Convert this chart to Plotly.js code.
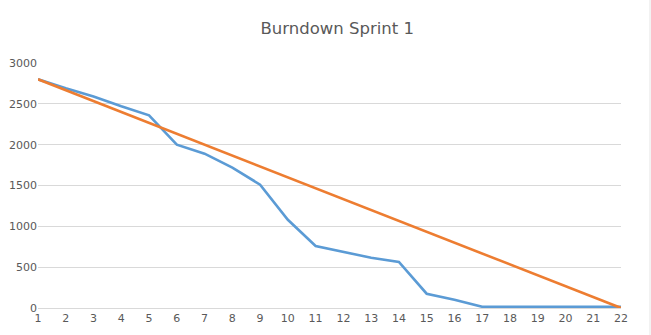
<!DOCTYPE html>
<html>
<head>
<meta charset="utf-8">
<script src="https://cdn.plot.ly/plotly-3.0.1.min.js"></script>
<style>html,body{margin:0;padding:0;background:#fff;}#chart{width:651px;height:335px;}</style>
</head>
<body>
<div id="chart"></div>
<script>
var days = [1,2,3,4,5,6,7,8,9,10,11,12,13,14,15,16,17,18,19,20,21,22];
var actual = [2800,2690,2590,2470,2360,2000,1890,1720,1510,1080,760,690,615,565,175,100,15,15,15,15,15,15];
var ideal = [2800,2667,2533,2400,2267,2133,2000,1867,1733,1600,1467,1333,1200,1067,933,800,667,533,400,267,133,0];
var yTicks = [0,500,1000,1500,2000,2500,3000];

var traces = [
  {x: days, y: actual, type: 'scatter', mode: 'lines', name: 'Actual',
   line: {color: '#5b9bd5', width: 2.6}},
  {x: days, y: ideal, type: 'scatter', mode: 'lines', name: 'Ideal',
   line: {color: '#ed7d31', width: 2.6}}
];

var layout = {
  width: 651, height: 335,
  margin: {l: 38, r: 30, t: 63, b: 27},
  paper_bgcolor: '#ffffff', plot_bgcolor: '#ffffff',
  showlegend: false,
  font: {family: 'DejaVu Sans, sans-serif', color: '#595959', size: 11},
  title: {text: 'Burndown Sprint 1', x: 0.518, xanchor: 'center', y: 0.915, yanchor: 'middle',
          font: {family: 'DejaVu Sans, sans-serif', size: 16.5, color: '#595959'}},
  xaxis: {range: [1, 22], tickvals: days, ticktext: days.map(String), showgrid: false,
          zeroline: false, showline: true, linecolor: '#d9d9d9', linewidth: 1,
          ticks: '', ticklen: 0, tickfont: {size: 11, color: '#595959'}, fixedrange: true},
  yaxis: {range: [0, 3000], tickvals: yTicks, ticktext: yTicks.map(String), showgrid: true,
          gridcolor: '#d9d9d9', gridwidth: 1, zeroline: false, showline: false,
          ticks: '', tickfont: {size: 11, color: '#595959'}, fixedrange: true},
  shapes: [{type: 'line', xref: 'paper', yref: 'paper', x0: 1.0497, x1: 1.0497, y0: -0.12, y1: 1.27,
            line: {color: '#e6e6e6', width: 1}}]
};

Plotly.newPlot('chart', traces, layout, {displayModeBar: false, staticPlot: true});
</script>
</body>
</html>
